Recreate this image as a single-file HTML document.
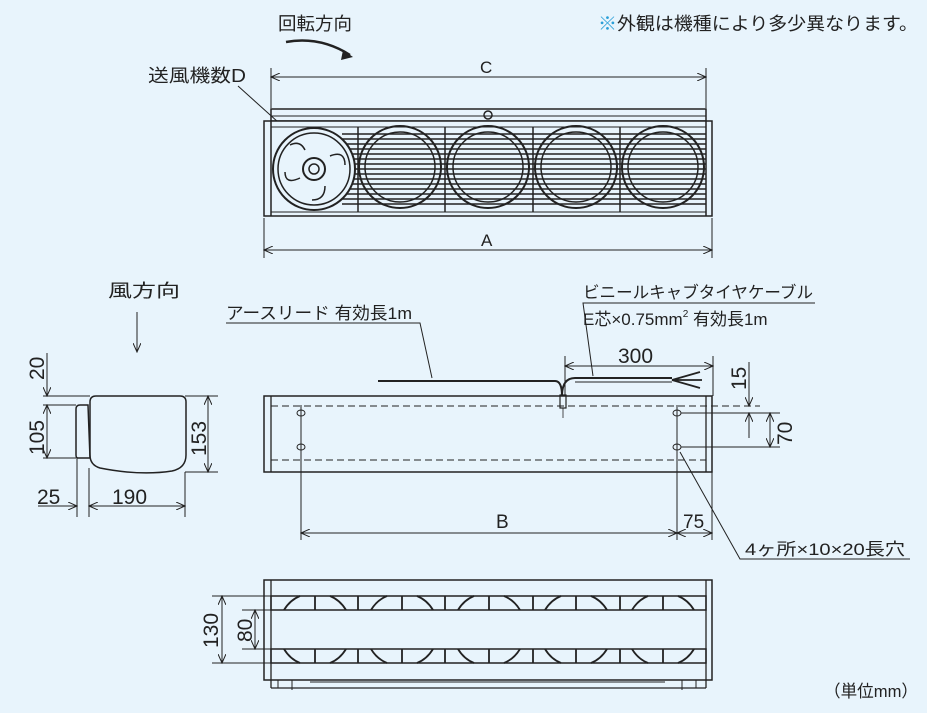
<!DOCTYPE html>
<html><head><meta charset="utf-8"><style>
body{margin:0;background:#e8f4fc}
svg{display:block}
text{font-family:"Liberation Sans","Noto Sans CJK JP",sans-serif;fill:#222}
</style></head><body>
<svg width="927" height="713" viewBox="0 0 927 713" xmlns="http://www.w3.org/2000/svg">
<defs>
<marker id="a" markerWidth="10" markerHeight="8" refX="9" refY="4" orient="auto-start-reverse" markerUnits="userSpaceOnUse"><path d="M0,0 L9,4 L0,8" fill="none" stroke="#222" stroke-width="1"/></marker>
</defs>
<rect width="927" height="713" fill="#e8f4fc"/>
<text x="278" y="30" font-size="18" textLength="74" lengthAdjust="spacingAndGlyphs">回転方向</text>
<path d="M286,42 Q320,36 350,55" stroke="#222" stroke-width="2.5" fill="none"/>
<path d="M343,50 L353,57 L341,60 Z" fill="#222"/>
<text x="598" y="30" font-size="18" textLength="320" lengthAdjust="spacingAndGlyphs"><tspan fill="#2a9fd8">※</tspan>外観は機種により多少異なります。</text>
<text x="148" y="82" font-size="18" textLength="98" lengthAdjust="spacingAndGlyphs">送風機数D</text>
<line x1="238" y1="86" x2="298" y2="140" stroke="#222"/>

<g stroke="#222" stroke-width="1" fill="none">
<line x1="271" y1="68" x2="271" y2="108"/><line x1="706" y1="68" x2="706" y2="108"/>
<line x1="271" y1="77" x2="706" y2="77" marker-start="url(#a)" marker-end="url(#a)"/>
<line x1="264" y1="218" x2="264" y2="258"/><line x1="712" y1="218" x2="712" y2="258"/>
<line x1="264" y1="250" x2="712" y2="250" marker-start="url(#a)" marker-end="url(#a)"/>
</g>
<text x="480" y="73" font-size="17">C</text>
<text x="481" y="246" font-size="17">A</text>

<g stroke="#222" fill="none" stroke-width="1.5">
<rect x="271" y="109" width="435" height="12"/>
<line x1="271" y1="116" x2="706" y2="116" stroke-width="1"/>
<circle cx="488" cy="115" r="4"/>
<rect x="264" y="121" width="448" height="95" fill="#e8f4fc"/>
<line x1="271" y1="121" x2="271" y2="216"/><line x1="706" y1="121" x2="706" y2="216"/>
<rect x="271" y="127" width="435" height="85" stroke-width="1"/>
<g stroke-width="1.4">
<line x1="342" y1="134" x2="706" y2="134"/><line x1="342" y1="139" x2="706" y2="139"/>
<line x1="342" y1="144" x2="706" y2="144"/><line x1="342" y1="149" x2="706" y2="149"/>
<line x1="342" y1="154" x2="706" y2="154"/><line x1="342" y1="159" x2="706" y2="159"/>
<line x1="342" y1="164" x2="706" y2="164"/><line x1="342" y1="169" x2="706" y2="169"/>
<line x1="342" y1="174" x2="706" y2="174"/><line x1="342" y1="179" x2="706" y2="179"/>
<line x1="342" y1="184" x2="706" y2="184"/><line x1="342" y1="189" x2="706" y2="189"/>
<line x1="342" y1="194" x2="706" y2="194"/><line x1="342" y1="199" x2="706" y2="199"/>
<line x1="342" y1="204" x2="706" y2="204"/>
</g>
<line x1="358" y1="127" x2="358" y2="212"/><line x1="445" y1="127" x2="445" y2="212"/>
<line x1="533" y1="127" x2="533" y2="212"/><line x1="620" y1="127" x2="620" y2="212"/>
<circle cx="400" cy="167" r="41" stroke-width="2"/><circle cx="400" cy="167" r="35"/>
<circle cx="488" cy="167" r="41" stroke-width="2"/><circle cx="488" cy="167" r="35"/>
<circle cx="576" cy="167" r="41" stroke-width="2"/><circle cx="576" cy="167" r="35"/>
<circle cx="663" cy="167" r="41" stroke-width="2"/><circle cx="663" cy="167" r="35"/>
<rect x="274" y="128" width="66" height="83" fill="#e8f4fc" stroke="none"/>
<circle cx="314" cy="169" r="41" fill="#e8f4fc" stroke-width="2"/>
<circle cx="314" cy="169" r="36"/>
<circle cx="314" cy="169" r="11" stroke-width="2"/><circle cx="314" cy="169" r="5"/>
<path d="M305,150 Q300,140 290,145 M330,156 Q345,150 345,165 M325,186 Q325,200 312,200 M300,178 Q285,185 285,172"/>
</g>

<text x="108" y="297" font-size="18" textLength="72" lengthAdjust="spacingAndGlyphs">風方向</text>
<line x1="137" y1="312" x2="137" y2="352" stroke="#222" marker-end="url(#a)"/>
<g stroke="#222" fill="none" stroke-width="1">
<path d="M96,396 L180,396 Q186,396 186,402 L186,455 Q186,468 172,471 Q140,476 100,468 Q90,465 90,455 L90,402 Q90,396 96,396 Z" stroke-width="1.5"/>
<path d="M80,405 L88,405 L90,458 L78,458 Q76,458 76,455 L76,409 Q76,405 80,405 Z" stroke-width="1.5"/>
<line x1="43" y1="396" x2="90" y2="396"/><line x1="43" y1="405" x2="76" y2="405"/><line x1="43" y1="458" x2="76" y2="458"/>
<line x1="47" y1="353" x2="47" y2="396" marker-end="url(#a)"/>
<line x1="47" y1="405" x2="47" y2="458" marker-start="url(#a)" marker-end="url(#a)"/>
<line x1="185" y1="396" x2="218" y2="396"/><line x1="185" y1="472" x2="218" y2="472"/>
<line x1="208" y1="396" x2="208" y2="472" marker-start="url(#a)" marker-end="url(#a)"/>
<line x1="77" y1="458" x2="77" y2="517"/><line x1="89" y1="468" x2="89" y2="517"/><line x1="185" y1="472" x2="185" y2="517"/>
<line x1="38" y1="506" x2="77" y2="506" marker-end="url(#a)"/>
<line x1="89" y1="506" x2="185" y2="506" marker-start="url(#a)" marker-end="url(#a)"/>
</g>
<text font-size="21" transform="translate(44,380) rotate(-90)">20</text>
<text font-size="21" transform="translate(44,455) rotate(-90)">105</text>
<text font-size="21" transform="translate(206,456) rotate(-90)">153</text>
<text x="37" y="504" font-size="21">25</text>
<text x="112" y="504" font-size="21">190</text>

<text x="226" y="319" font-size="17" textLength="186" lengthAdjust="spacingAndGlyphs">アースリード 有効長1m</text>
<polyline points="226,323 420,323 432,378" fill="none" stroke="#222"/>
<text x="583" y="298" font-size="16.5" textLength="230" lengthAdjust="spacingAndGlyphs">ビニールキャブタイヤケーブル</text>
<text x="583" y="325" font-size="17">E芯×0.75mm<tspan font-size="10" dy="-8">2</tspan><tspan dy="8"> 有効長1m</tspan></text>
<polyline points="815,303 583,303 593,376" fill="none" stroke="#222"/>
<g stroke="#222" fill="none">
<path d="M378,381 L555,381 Q562,381 562,396" stroke-width="2"/>
<path d="M562,396 Q562,378 575,378 L672,378" stroke-width="2"/>
<path d="M575,382 L672,382" stroke-width="1"/>
<path d="M672,380 L700,372 M672,380 L702,380 M672,380 L700,388" stroke-width="1.8"/>
<rect x="560" y="395" width="6" height="13" stroke-width="1.2"/>
<line x1="563" y1="408" x2="563" y2="418" stroke-width="0.8"/>
<rect x="264" y="396" width="448" height="76" stroke-width="1.5"/>
<line x1="271" y1="396" x2="271" y2="472" stroke-width="1.3"/><line x1="706" y1="396" x2="706" y2="472" stroke-width="1.3"/>
<line x1="271" y1="406" x2="760" y2="406" stroke-dasharray="7,4"/>
<line x1="271" y1="460" x2="706" y2="460" stroke-dasharray="7,4"/>
<ellipse cx="301" cy="413" rx="4" ry="3"/><ellipse cx="301" cy="447" rx="4" ry="3"/>
<ellipse cx="677" cy="413" rx="4" ry="3"/><ellipse cx="677" cy="447" rx="4" ry="3"/>
<line x1="301" y1="405" x2="301" y2="540"/><line x1="677" y1="405" x2="677" y2="540"/><line x1="712" y1="472" x2="712" y2="540"/>
<line x1="565" y1="356" x2="565" y2="396"/><line x1="713" y1="356" x2="713" y2="396"/>
<line x1="565" y1="366" x2="713" y2="366" marker-start="url(#a)" marker-end="url(#a)"/>
<line x1="681" y1="413" x2="780" y2="413"/><line x1="681" y1="447" x2="780" y2="447"/>
<line x1="749" y1="362" x2="749" y2="406" marker-end="url(#a)"/>
<line x1="749" y1="438" x2="749" y2="413" marker-end="url(#a)"/>
<line x1="770" y1="413" x2="770" y2="447" marker-start="url(#a)" marker-end="url(#a)"/>
<line x1="301" y1="533" x2="677" y2="533" marker-start="url(#a)" marker-end="url(#a)"/>
<line x1="677" y1="533" x2="712" y2="533" marker-start="url(#a)" marker-end="url(#a)"/>
<polyline points="910,559 740,559 680,452" />
</g>
<text x="618" y="363" font-size="21">300</text>
<text font-size="21" transform="translate(746,390) rotate(-90)">15</text>
<text font-size="21" transform="translate(792,445) rotate(-90)">70</text>
<text x="496" y="528" font-size="19">B</text>
<text x="683" y="528" font-size="19">75</text>
<text x="745" y="555" font-size="17" textLength="160" lengthAdjust="spacingAndGlyphs">4ヶ所×10×20長穴</text>

<g stroke="#222" fill="none">
<rect x="264" y="580" width="448" height="100" stroke-width="1.5"/>
<line x1="271" y1="580" x2="271" y2="688" stroke-width="1.3"/><line x1="706" y1="580" x2="706" y2="688" stroke-width="1.3"/>
<line x1="271" y1="688" x2="706" y2="688" stroke-width="1.3"/>
<rect x="271" y="596" width="435" height="14" stroke-width="1.5"/>
<rect x="271" y="649" width="435" height="14" stroke-width="1.5"/>
<g stroke-width="1.8">
<path d="M284,610 Q290,600 300,596 M346,610 Q340,600 330,596 M315,596 L315,610"/>
<path d="M371,610 Q377,600 387,596 M433,610 Q427,600 417,596 M402,596 L402,610"/>
<path d="M458,610 Q464,600 474,596 M520,610 Q514,600 504,596 M489,596 L489,610"/>
<path d="M545,610 Q551,600 561,596 M607,610 Q601,600 591,596 M576,596 L576,610"/>
<path d="M632,610 Q638,600 648,596 M694,610 Q688,600 678,596 M663,596 L663,610"/>
<path d="M284,649 Q290,659 300,663 M346,649 Q340,659 330,663 M315,649 L315,663"/>
<path d="M371,649 Q377,659 387,663 M433,649 Q427,659 417,663 M402,649 L402,663"/>
<path d="M458,649 Q464,659 474,663 M520,649 Q514,659 504,663 M489,649 L489,663"/>
<path d="M545,649 Q551,659 561,663 M607,649 Q601,659 591,663 M576,649 L576,663"/>
<path d="M632,649 Q638,659 648,663 M694,649 Q688,659 678,663 M663,649 L663,663"/>
<line x1="358" y1="596" x2="358" y2="610"/><line x1="445" y1="596" x2="445" y2="610"/><line x1="533" y1="596" x2="533" y2="610"/><line x1="620" y1="596" x2="620" y2="610"/>
<line x1="358" y1="649" x2="358" y2="663"/><line x1="445" y1="649" x2="445" y2="663"/><line x1="533" y1="649" x2="533" y2="663"/><line x1="620" y1="649" x2="620" y2="663"/>
</g>
<line x1="212" y1="596" x2="271" y2="596"/><line x1="212" y1="663" x2="271" y2="663"/>
<line x1="242" y1="610" x2="271" y2="610"/><line x1="242" y1="649" x2="271" y2="649"/>
<line x1="222" y1="596" x2="222" y2="663" marker-start="url(#a)" marker-end="url(#a)"/>
<line x1="255" y1="610" x2="255" y2="649" marker-start="url(#a)" marker-end="url(#a)"/>
<path d="M278,680 L278,688 M292,680 L292,690 M682,680 L682,690 M696,680 L696,688 M310,682 L665,682"/>
</g>
<text font-size="21" transform="translate(218,648) rotate(-90)">130</text>
<text font-size="21" transform="translate(252,642) rotate(-90)">80</text>
<text x="824" y="697" font-size="17" textLength="94" lengthAdjust="spacingAndGlyphs">（単位mm）</text>
</svg>
</body></html>
